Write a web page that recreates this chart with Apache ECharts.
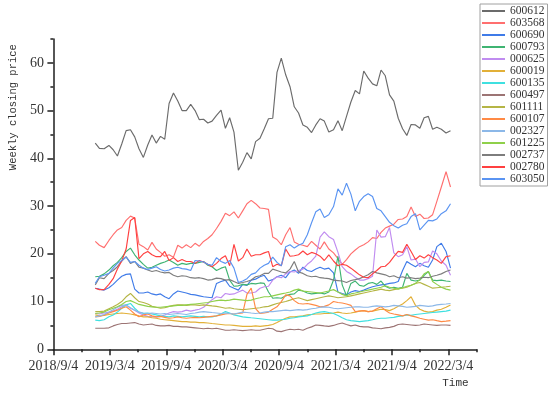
<!DOCTYPE html>
<html><head><meta charset="utf-8">
<script src="https://cdn.jsdelivr.net/npm/echarts@6/dist/echarts.min.js"></script>
<style>html,body{margin:0;padding:0;background:#fff}#c{width:550px;height:393px}</style>
</head><body><div id="c"></div>
<script>
// ---- axis labels / ticks ----
const xTickLabels = ['2018/9/4','2019/3/4','2019/9/4','2020/3/4','2020/9/4','2021/3/4','2021/9/4','2022/3/4'];
const xMinorTickDates = ['2018/12/4','2019/6/4','2019/12/4','2020/6/4','2020/12/4','2021/6/4','2021/12/4','2022/6/4'];
const xAxisEnd = '2022/6/4';
const yTicks = [0,10,20,30,40,50,60];
const yMinorTicks = [5,15,25,35,45,55,65];
const yMax = 65;

// ---- weekly sampling (every second week) ----
const startDate = '2019/1/18';
const stepDays = 14;
const pointCount = 83;

const stockCodes = ['600612','603568','600690','600793','000625','600019','600135','600497','601111','600107','002327','601225','002737','002780','603050'];
const stockColors = ['#6b6b6b','#ff6f6f','#3f7be8','#3fb472','#c08cf0','#e2b038','#3fe0e0','#9c7474','#b5b545','#ff8a45','#8cb8e8','#8fd04a','#7d7d7d','#ff4040','#5a94f2'];

const s600612 = [43.2,42.1,42.0,42.7,41.8,40.5,43.0,45.8,46.0,44.5,
 42.0,40.2,42.8,44.9,43.2,44.6,44.0,51.5,53.7,52.0,
 50.0,50.0,51.3,50.0,48.1,48.2,47.4,47.8,49.0,50.1,
 46.3,48.5,45.5,37.5,39.2,41.2,39.9,43.5,44.2,46.2,
 48.3,48.4,58.0,61.0,57.5,55.0,50.8,49.5,47.0,46.5,
 45.4,47.0,48.3,47.8,45.5,46.0,47.9,45.8,48.8,51.8,
 54.2,53.5,58.3,56.8,55.6,55.2,58.5,57.3,53.3,52.0,
 48.4,46.2,44.8,47.1,47.0,46.3,48.5,48.8,46.1,46.5,
 46.1,45.3,45.8];
const s603568 = [22.6,21.8,21.3,22.8,24.0,25.0,25.5,27.0,27.9,27.5,
 22.0,21.5,20.8,22.4,21.0,20.3,19.5,19.8,19.3,21.8,
 21.2,21.9,21.3,22.2,21.6,22.6,23.2,24.0,25.3,26.8,
 28.5,28.0,28.8,27.5,29.0,30.5,31.2,30.5,29.6,29.5,
 29.3,23.5,23.0,21.9,24.0,25.5,22.5,22.0,21.8,21.5,
 22.6,21.8,21.0,22.5,21.0,20.2,19.0,17.8,18.8,20.0,
 20.8,21.5,21.9,22.5,23.4,23.2,24.5,25.4,25.8,26.2,
 27.2,27.3,27.8,29.8,27.8,28.3,27.4,27.5,28.2,31.0,
 34.0,37.2,34.0];
const s600690 = [12.8,12.6,12.4,12.9,13.6,14.5,15.3,15.7,15.8,12.6,
 11.8,11.8,12.0,11.6,11.4,11.6,11.0,10.6,11.6,12.2,
 12.0,11.8,11.5,11.4,11.2,11.0,10.9,10.8,13.8,14.2,
 14.5,13.2,12.8,12.4,13.6,13.4,14.5,14.7,15.2,15.5,
 14.3,14.6,15.2,15.5,15.0,16.2,16.6,15.9,17.2,16.5,
 16.3,16.8,17.2,16.8,17.0,16.0,12.0,11.7,11.4,12.0,
 12.3,12.1,12.4,12.8,13.1,13.3,13.5,13.6,13.8,13.9,
 14.2,16.5,18.4,17.8,17.3,18.0,17.5,17.2,18.7,21.5,
 22.2,20.5,17.0];
const s600793 = [15.2,15.3,15.8,16.6,17.5,18.2,19.2,20.5,21.2,19.8,
 18.7,17.8,17.0,17.2,17.6,18.0,18.3,18.7,18.2,17.6,
 18.0,17.8,18.0,18.0,18.2,18.4,17.6,17.3,16.5,17.0,
 17.3,14.5,13.2,13.3,13.6,13.5,13.8,13.7,13.9,13.8,
 12.0,10.7,10.8,10.7,11.2,11.5,11.6,12.4,12.2,11.8,
 11.6,11.7,11.8,11.6,12.0,14.5,19.5,13.5,11.2,13.8,
 14.3,13.4,13.2,13.8,14.0,13.6,14.3,13.2,12.8,13.0,
 12.8,13.0,15.9,14.5,14.3,14.5,15.5,16.3,14.5,14.4,
 14.5,14.3,14.2];
const s000625 = [7.5,7.4,7.6,7.8,8.0,8.4,8.9,9.3,8.6,8.2,
 7.6,7.2,6.9,6.8,6.8,6.9,7.2,7.6,7.9,7.8,
 7.9,8.2,8.0,8.2,8.4,8.8,9.6,10.4,11.0,10.8,
 11.7,11.5,11.6,12.0,12.4,11.8,11.8,12.0,12.8,13.1,
 13.2,14.5,15.2,15.0,15.8,16.3,16.2,16.5,16.8,17.8,
 18.5,19.5,23.5,24.6,23.6,23.0,20.3,17.3,16.3,15.8,
 15.1,14.5,14.5,14.8,15.3,25.0,23.5,23.6,25.5,20.2,
 19.4,19.8,21.5,18.7,18.9,17.3,18.2,18.3,20.6,20.0,
 18.5,17.6,15.5];
const s600019 = [7.2,7.0,7.1,7.3,7.4,7.5,7.6,7.5,7.4,7.2,
 7.0,6.8,6.8,6.6,6.5,6.3,6.2,6.1,6.0,5.9,
 5.8,5.8,5.7,5.7,5.6,5.6,5.5,5.4,5.3,5.2,
 5.1,5.1,5.0,4.9,4.8,4.8,4.8,4.9,4.8,4.9,
 5.0,5.2,5.6,6.1,6.5,6.8,6.8,6.9,7.0,7.2,
 7.3,7.4,7.4,7.5,7.5,7.6,7.8,7.6,7.5,7.6,
 7.8,8.0,8.1,7.9,8.0,8.2,8.4,8.3,8.1,8.5,
 9.0,9.5,10.2,11.0,9.2,8.4,8.0,7.8,7.9,8.2,
 8.4,8.8,9.3];
const s600135 = [6.1,6.0,6.2,6.8,7.2,7.8,8.6,9.3,9.6,8.6,
 7.8,7.5,7.6,7.4,7.2,7.0,6.9,6.8,7.0,6.9,
 6.8,6.9,7.0,6.9,6.8,6.9,6.8,6.8,7.0,7.4,
 7.9,7.6,7.2,7.0,6.8,6.7,6.6,6.5,6.4,6.3,
 6.2,6.1,6.1,6.2,6.3,6.5,6.6,6.8,6.9,7.0,
 7.3,7.6,7.8,7.9,7.7,7.5,7.1,6.6,6.2,6.0,
 5.9,5.8,5.9,6.0,6.2,6.4,6.5,6.5,6.6,6.7,
 6.9,7.0,7.2,7.1,7.3,7.4,7.5,7.6,7.7,7.8,
 7.9,8.0,8.2];
const s600497 = [4.4,4.4,4.4,4.5,4.9,5.2,5.4,5.4,5.5,5.6,
 5.3,5.1,5.2,5.3,5.0,4.9,4.9,5.0,4.8,4.8,
 4.7,4.7,4.6,4.5,4.4,4.3,4.4,4.3,4.4,4.2,
 4.0,4.0,4.1,4.0,3.9,4.0,4.1,4.0,4.0,4.2,
 4.4,4.3,3.8,3.7,4.0,4.2,4.1,4.2,4.0,4.4,
 4.7,5.1,5.0,4.9,4.8,5.0,5.3,5.5,5.2,4.9,
 5.1,4.8,4.7,4.7,4.5,4.4,4.3,4.5,4.6,4.8,
 5.2,5.3,5.2,5.1,5.0,5.1,5.3,5.2,5.1,5.0,
 5.1,5.1,5.0];
const s601111 = [7.9,7.9,8.0,8.5,8.9,9.4,10.0,11.0,11.7,10.8,
 10.0,9.8,9.5,9.0,8.8,8.6,8.7,9.0,9.2,9.3,
 9.3,9.2,9.3,9.3,9.2,9.3,9.2,9.1,9.0,8.8,
 8.6,8.7,8.5,8.4,8.3,8.4,8.5,8.6,8.7,8.9,
 9.0,9.3,9.6,9.8,10.0,10.3,10.6,10.8,10.5,10.2,
 10.4,10.6,10.8,11.0,11.2,11.0,10.8,10.9,11.0,11.2,
 11.4,11.6,11.8,12.0,12.2,12.4,12.6,12.4,12.3,12.5,
 12.7,12.8,13.0,13.4,13.8,14.0,13.6,13.2,12.8,12.9,
 13.0,13.1,13.2];
const s600107 = [6.8,6.9,7.2,7.6,7.9,8.2,8.6,8.9,8.2,7.4,
 6.8,7.2,7.4,7.0,6.8,6.9,6.7,6.5,6.6,6.8,
 6.6,6.5,6.6,6.7,6.6,6.7,6.8,6.9,7.0,7.2,
 7.4,7.5,7.4,7.5,7.6,11.5,12.8,8.5,7.5,7.6,
 7.8,8.4,8.9,10.0,11.4,11.2,10.2,9.6,9.5,9.6,
 9.4,9.2,8.9,9.0,9.3,10.0,9.8,9.7,9.5,9.2,
 7.9,8.0,8.1,7.9,8.0,8.5,8.9,8.2,7.6,7.4,
 7.2,7.0,7.3,7.0,6.8,6.5,6.3,6.1,6.2,6.0,
 5.8,5.9,6.0];
const s002327 = [6.8,7.0,7.3,7.8,8.3,8.8,9.2,9.3,8.7,8.2,
 7.8,7.6,7.5,7.6,7.5,7.4,7.5,7.3,7.4,7.5,
 7.4,7.3,7.5,7.6,7.8,7.9,7.8,7.7,7.6,7.5,
 7.6,7.5,7.4,7.6,7.8,7.7,7.6,7.5,7.6,7.8,
 7.9,7.9,8.0,8.1,8.2,8.1,8.2,8.3,8.2,8.3,
 8.5,8.6,8.8,8.9,8.8,8.6,8.5,8.6,8.7,8.8,
 8.9,8.9,8.8,8.8,9.0,9.1,9.0,8.9,9.0,9.2,
 9.1,9.0,8.8,8.9,9.0,9.2,9.1,9.0,9.1,9.3,
 9.4,9.5,9.6];
const s601225 = [7.5,7.6,7.8,8.3,8.6,8.9,9.4,10.0,10.2,9.8,
 9.4,9.2,9.0,8.9,8.8,8.8,8.9,9.0,9.1,9.2,
 9.2,9.3,9.4,9.5,9.6,9.7,9.8,10.0,10.2,10.3,
 10.2,10.3,10.5,10.4,10.3,10.2,10.3,10.6,10.8,11.0,
 11.0,11.2,11.4,11.6,11.8,12.0,12.4,12.6,12.2,12.1,
 12.0,11.9,11.8,12.0,12.2,12.5,12.0,11.5,11.2,11.6,
 11.8,12.0,12.2,12.4,12.6,12.8,13.0,13.3,13.0,12.8,
 12.6,12.9,13.2,13.4,13.8,14.6,15.8,16.3,14.2,13.6,
 13.0,12.6,12.4];
const s002737 = [13.5,15.0,14.8,15.9,16.5,17.3,18.5,19.4,18.0,18.4,
 17.2,17.0,16.6,16.3,16.5,16.2,16.0,16.1,15.5,15.2,
 15.4,15.3,15.0,14.9,15.0,14.8,14.5,14.6,14.9,14.8,
 14.5,14.6,14.2,13.8,14.0,14.2,14.5,15.2,15.4,15.9,
 15.9,16.8,16.5,16.2,16.0,16.8,18.4,16.2,15.9,15.4,
 15.2,15.3,15.0,14.9,14.8,14.5,14.4,14.3,14.0,14.4,
 14.6,14.8,15.2,15.6,16.3,16.0,15.8,15.6,15.2,15.4,
 15.0,15.2,14.9,15.0,14.8,14.9,15.1,15.0,15.3,15.5,
 15.8,16.3,16.6];
const s002780 = [12.8,12.5,12.5,13.6,14.8,16.8,18.5,21.0,27.0,27.6,
 19.0,20.0,20.5,19.8,19.4,19.4,20.5,18.6,19.2,18.4,
 18.8,18.4,18.4,18.0,18.6,18.3,17.8,17.3,18.0,19.0,
 19.6,17.5,22.0,18.5,19.2,21.0,19.5,19.8,19.8,20.2,
 20.5,17.3,17.8,17.5,21.0,19.5,19.6,19.8,20.6,19.8,
 20.3,20.0,19.5,18.6,19.8,18.5,17.5,17.8,17.6,17.0,
 16.3,15.6,15.1,15.0,15.8,16.5,17.3,17.4,18.2,19.4,
 20.5,20.3,22.0,20.5,18.8,19.6,19.1,19.8,19.2,18.7,
 18.0,19.4,19.6];
const s603050 = [13.8,15.2,15.5,15.9,17.0,18.0,18.6,19.3,18.2,18.4,
 17.6,17.0,16.7,17.0,17.3,16.7,16.4,16.6,17.0,17.2,
 16.9,16.8,16.5,18.6,18.5,18.3,17.8,17.6,19.2,18.4,
 18.0,18.6,17.0,14.0,14.3,14.8,15.7,16.0,17.0,17.6,
 18.0,19.3,18.2,17.5,21.5,21.9,21.2,21.8,22.2,24.0,
 26.5,28.8,29.4,27.6,28.2,29.9,33.6,32.3,34.8,32.5,
 29.0,31.0,32.0,32.6,32.0,29.5,29.0,27.8,26.6,25.9,
 25.4,26.0,26.3,27.8,28.4,25.0,26.0,27.0,26.9,27.3,
 28.4,29.0,30.5];

const seriesValues = [s600612,s603568,s600690,s600793,s000625,s600019,s600135,s600497,s601111,s600107,s002327,s601225,s002737,s002780,s603050];

// ---- date helpers: x positions in months since 2018/9/4 ----
function daysInMonth(y, m) { return new Date(Date.UTC(y, m, 0)).getUTCDate(); }
function monthsFromYMD(y, m, d) { return (y - 2018) * 12 + (m - 9) + (d - 4) / daysInMonth(y, m); }
function monthsFromStr(s) { const p = s.split('/').map(Number); return monthsFromYMD(p[0], p[1], p[2]); }
const sp = startDate.split('/').map(Number);
const startMs = Date.UTC(sp[0], sp[1] - 1, sp[2]);
const sampleDates = [];
for (let i = 0; i < pointCount; i++) sampleDates.push(new Date(startMs + i * stepDays * 86400000));
const sampleX = sampleDates.map(d => monthsFromYMD(d.getUTCFullYear(), d.getUTCMonth() + 1, d.getUTCDate()));

const xTickValues = xTickLabels.map(monthsFromStr);
const xMinorValues = xMinorTickDates.map(monthsFromStr);
const xMax = monthsFromStr(xAxisEnd);

const serif = 'Liberation Serif';
const axisColor = '#1e1e1e';
const textColor = '#333';

const chart = echarts.init(document.getElementById('c'), null, {renderer: 'canvas'});
chart.setOption({
  animation: false,
  backgroundColor: '#fff',
  color: stockColors,
  grid: {left: 45.5, right: 550 - 476.6, top: 39, bottom: 393 - 349.3},
  legend: {
    data: stockCodes, orient: 'vertical', left: 480, top: 4,
    icon: 'rect', itemWidth: 23, itemHeight: 2, itemGap: 0,
    padding: [1, 3, 1, 2], borderColor: '#a0a0a0', borderWidth: 1,
    textStyle: {fontFamily: serif, fontSize: 11.5, color: textColor, lineHeight: 11.6}
  },
  xAxis: [{
    type: 'value', min: 0, max: xMax, position: 'bottom',
    name: 'Time', nameLocation: 'end', nameGap: -8,
    nameTextStyle: {fontFamily: 'Liberation Mono', fontSize: 11, color: textColor, align: 'right', verticalAlign: 'top', padding: [28, 0, 0, 0]},
    axisLine: {show: true, lineStyle: {color: axisColor, width: 1.5}},
    axisTick: {show: true, customValues: xTickValues, length: 6, lineStyle: {color: axisColor, width: 1.5}},
    axisLabel: {customValues: xTickValues, margin: 10, fontFamily: serif, fontSize: 14, color: textColor,
      formatter: v => xTickLabels[Math.round(v / 6)] || ''},
    splitLine: {show: false}
  }, {
    type: 'value', min: 0, max: xMax, position: 'bottom', gridIndex: 0,
    axisLine: {show: false},
    axisTick: {show: true, customValues: xMinorValues, length: 3, lineStyle: {color: axisColor, width: 1.5}},
    axisLabel: {show: false}, splitLine: {show: false}
  }],
  yAxis: [{
    type: 'value', min: 0, max: yMax, position: 'left',
    name: 'Weekly closing price', nameLocation: 'middle', nameGap: 32.5, nameRotate: 90,
    nameTextStyle: {fontFamily: 'Liberation Mono', fontSize: 10.5, color: textColor, padding: [0, 0, 0, 174]},
    axisLine: {show: true, lineStyle: {color: axisColor, width: 1.5}},
    axisTick: {show: true, customValues: yTicks, length: 6, lineStyle: {color: axisColor, width: 1.5}},
    axisLabel: {customValues: yTicks, margin: 9.5, fontFamily: serif, fontSize: 14, color: textColor},
    splitLine: {show: false}
  }, {
    type: 'value', min: 0, max: yMax, position: 'left', gridIndex: 0,
    axisLine: {show: false},
    axisTick: {show: true, customValues: yMinorTicks, length: 3, lineStyle: {color: axisColor, width: 1.5}},
    axisLabel: {show: false}, splitLine: {show: false}
  }],
  series: stockCodes.map((code, k) => ({
    name: code, type: 'line', xAxisIndex: 0, yAxisIndex: 0,
    symbol: 'none', showSymbol: false,
    lineStyle: {width: 1.15},
    data: seriesValues[k].map((v, i) => [sampleX[i], v])
  }))
});
</script></body></html>
